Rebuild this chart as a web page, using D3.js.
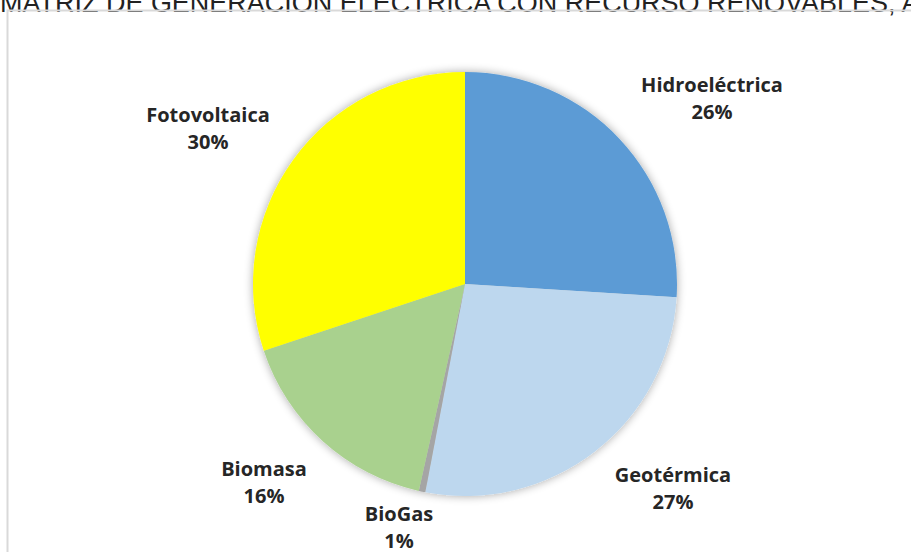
<!DOCTYPE html>
<html><head><meta charset="utf-8">
<script src="https://cdn.jsdelivr.net/npm/d3@7"></script>
<style>html,body{margin:0;padding:0;background:#fff;overflow:hidden}</style>
</head><body>
<svg id="c" width="911" height="552"></svg>
<script>
const categories = ["Hidroeléctrica", "Geotérmica", "BioGas", "Biomasa", "Fotovoltaica"];
const values = [26, 27, 0.5, 16.4, 30.1];
const colors = ["#5B9BD5", "#BDD7EE", "#A5A5A5", "#A9D18E", "#FFFF00"];
const titleText = "MATRIZ DE GENERACIÓN ELÉCTRICA CON RECURSO RENOVABLES, AÑO";
// label block offsets from pie centre (layout)
const labelOffsets = [[247,-186],[208,204],[-66,243],[-201,198],[-257,-156]];

const svg = d3.select("#c");
const cx = 465, cy = 284, r = 212;

const defs = svg.append("defs");
const f = defs.append("filter").attr("id","sh").attr("x","-20%").attr("y","-20%").attr("width","140%").attr("height","140%");
f.append("feGaussianBlur").attr("in","SourceAlpha").attr("stdDeviation",5).attr("result","b");
f.append("feComponentTransfer").attr("in","b").attr("result","o2").append("feFuncA").attr("type","linear").attr("slope",0.35);
const m = f.append("feMerge"); m.append("feMergeNode").attr("in","o2"); m.append("feMergeNode").attr("in","SourceGraphic");

// title (cropped at top)
svg.append("text").attr("x", 0).attr("y", 12)
  .attr("font-family","Liberation Sans, Arial, sans-serif").attr("font-size", 27)
  .attr("fill","#222").attr("textLength", 960).attr("lengthAdjust","spacingAndGlyphs")
  .text(titleText);

// frame
svg.append("rect").attr("x",7.5).attr("y",10.5).attr("width",1000).attr("height",1000)
  .attr("fill","none").attr("stroke","#d9d9d9").attr("stroke-width",2);

const pie = d3.pie().sort(null).value(d => d);
const arcs = pie(values);
const arc = d3.arc().innerRadius(0).outerRadius(r);

const g = svg.append("g").attr("transform", `translate(${cx},${cy})`);
g.append("g").attr("filter","url(#sh)").selectAll("path").data(arcs).join("path")
  .attr("d", arc).attr("fill", (d,i) => colors[i]);

const total = d3.sum(values);
const lg = g.selectAll("g.lab").data(arcs).join("g").attr("class","lab")
  .attr("transform", (d,i) => `translate(${labelOffsets[i][0]},${labelOffsets[i][1]})`);
lg.append("text").attr("text-anchor","middle").attr("y",-6)
  .attr("font-family","Open Sans, sans-serif").attr("font-weight","bold").attr("font-size",20)
  .attr("fill","#262626").text((d,i) => categories[i]);
lg.append("text").attr("text-anchor","middle").attr("y",21)
  .attr("font-family","Open Sans, sans-serif").attr("font-weight","bold").attr("font-size",20)
  .attr("fill","#262626").text(d => Math.round(d.data / total * 100) + "%");
</script>
</body></html>
